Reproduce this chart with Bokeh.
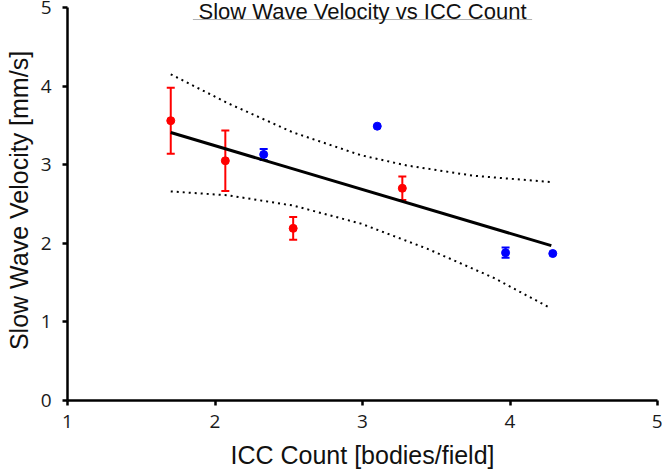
from bokeh.plotting import figure
from bokeh.models import Range1d, Whisker, ColumnDataSource, Label, TeeHead, FixedTicker
from bokeh.embed import file_html
from bokeh.resources import INLINE

# ---- data ----
x_ticks = [1, 2, 3, 4, 5]
y_ticks = [0, 1, 2, 3, 4, 5]

red_x = [1.70, 2.07, 2.53, 3.27]
red_y = [3.56, 3.05, 2.19, 2.70]
red_err = [0.42, 0.385, 0.145, 0.15]

blue_x = [2.33, 3.10, 3.97, 4.29]
blue_y = [3.13, 3.49, 1.88, 1.87]
blue_err = [0.07, 0.0, 0.065, 0.0]

fit_x = [1.70, 4.28]
fit_y = [3.41, 1.97]

upper_x = [1.70, 2.09, 2.53, 2.99, 3.30, 3.75, 4.27]
upper_y = [4.15, 3.78, 3.41, 3.12, 2.99, 2.86, 2.78]
lower_x = [1.70, 2.09, 2.53, 2.99, 3.44, 3.89, 4.27]
lower_y = [2.66, 2.61, 2.48, 2.25, 1.93, 1.56, 1.18]

title_text = "Slow Wave Velocity vs ICC Count"
x_label = "ICC Count [bodies/field]"
y_label = "Slow Wave Velocity [mm/s]"

RED = "#ff0000"
BLUE = "#0000ff"

# y range runs a little above 5 so the title (drawn inside the frame) is not clipped;
# the axis line itself is bounded to 0..5
p = figure(width=662, height=475, x_range=Range1d(1, 5), y_range=Range1d(0, 5.089),
           output_backend="svg", toolbar_location=None,
           min_border_left=67, min_border_right=5, min_border_top=0, min_border_bottom=75)
p.xgrid.visible = False
p.ygrid.visible = False
p.outline_line_color = None
p.background_fill_color = "white"
p.border_fill_color = "white"

for ax, ticks in ((p.xaxis, x_ticks), (p.yaxis, y_ticks)):
    ax.ticker = FixedTicker(ticks=ticks)
    ax.minor_tick_line_color = None
    ax.axis_line_width = 2.5
    ax.axis_line_color = "black"
    ax.major_tick_line_width = 2.5
    ax.major_tick_line_color = "black"
    ax.major_tick_in = 0
    ax.major_tick_out = 5
    ax.major_label_text_font = "Open Sans"
    ax.major_label_text_font_size = "19px"
    ax.major_label_text_color = "#1a1a1a"
    ax.axis_label_text_font = "Liberation Sans"
    ax.axis_label_text_font_size = "25px"
    ax.axis_label_text_font_style = "normal"
    ax.axis_label_text_color = "#111111"

p.yaxis.bounds = (0, 5)
p.xaxis.axis_label = x_label
p.yaxis.axis_label = y_label
p.xaxis.major_label_standoff = 9
p.yaxis.major_label_standoff = 11
p.xaxis.axis_label_standoff = 10
p.yaxis.axis_label_standoff = 5

# confidence bands
p.line(upper_x, upper_y, line_color="black", line_width=2, line_dash="2 4")
p.line(lower_x, lower_y, line_color="black", line_width=2, line_dash="2 4")

# regression line
p.line(fit_x, fit_y, line_color="black", line_width=3)

# error bars
def add_err(xs, ys, es, color):
    src = ColumnDataSource(dict(x=xs, lo=[y - e for y, e in zip(ys, es)],
                                hi=[y + e for y, e in zip(ys, es)]))
    w = Whisker(source=src, base="x", lower="lo", upper="hi", dimension="height",
                line_color=color, line_width=2,
                upper_head=TeeHead(size=8, line_color=color, line_width=2),
                lower_head=TeeHead(size=8, line_color=color, line_width=2))
    p.add_layout(w)

add_err(red_x, red_y, red_err, RED)
add_err([x for x, e in zip(blue_x, blue_err) if e > 0],
        [y for y, e in zip(blue_y, blue_err) if e > 0],
        [e for e in blue_err if e > 0], BLUE)

p.scatter(red_x, red_y, size=8, fill_color=RED, line_color=RED)
p.scatter(blue_x, blue_y, size=8, fill_color=BLUE, line_color=BLUE)

# title with thin gray underline
p.add_layout(Label(x=3.0, y=4.949, text=title_text, text_align="center",
                   text_baseline="middle", text_font="Liberation Sans",
                   text_font_size="22px", text_color="#111111"))
p.segment(x0=[1.85], y0=[4.847], x1=[4.15], y1=[4.847], line_color="#b0b0b0", line_width=1)

open("out.html", "w").write(file_html(p, INLINE))
